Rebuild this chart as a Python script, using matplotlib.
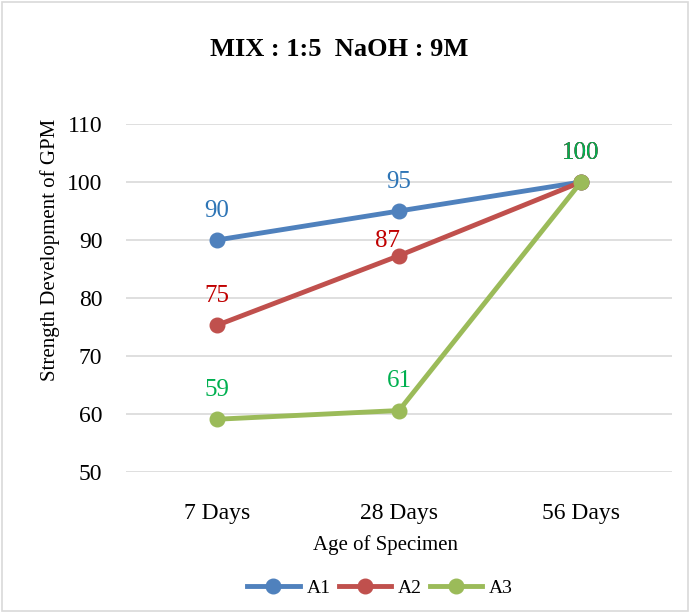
import matplotlib.pyplot as plt
from matplotlib.patches import Rectangle

plt.rcParams['font.family'] = ['Liberation Serif', 'DejaVu Serif']

ages = ['7 Days', '28 Days', '56 Days']
a1 = [90.0, 95.0, 100.0]
a2 = [75.3, 87.3, 100.0]
a3 = [59.1, 60.6, 100.0]

series = [
    ('A1', a1, '#4F81BD', '#2E75B6'),
    ('A2', a2, '#C0504D', '#C00000'),
    ('A3', a3, '#9BBB59', '#00B050'),
]

fig = plt.figure(figsize=(6.9, 6.13), dpi=100)
fig.patches.append(Rectangle((0.003, 0.003), 0.994, 0.994, transform=fig.transFigure,
                             fill=False, edgecolor='#D9D9D9', linewidth=1.2))
ax = fig.add_axes([0.1826, 0.230, 0.7914, 0.5677])

# label offsets in points; the A2 28-day label sits closer, nudged left
offsets = {('A2', 1): (-8, 3)}

x = list(range(len(ages)))
for name, vals, col, lcol in series:
    ax.plot(x, vals, color=col, lw=3.5, marker='o', ms=10.5, label=name,
            clip_on=False, zorder=3)
    for xi, v in zip(x, vals):
        ax.annotate(f'{v:.0f}', (xi, v), xytext=offsets.get((name, xi), (0, 13)),
                    textcoords='offset points', ha='center', va='bottom',
                    color=lcol, fontsize=18, zorder=4)

ax.set_xlim(-0.5, 2.5)
ax.set_ylim(50, 110)
ax.set_yticks(range(50, 111, 10))
ax.set_xticks(x)
ax.set_xticklabels(ages)
ax.tick_params(length=0, labelsize=17)
ax.tick_params(axis='x', pad=22)
ax.tick_params(axis='y', pad=17)
ax.grid(axis='y', color='#D9D9D9', lw=1.2)
ax.set_axisbelow(True)
for s in ax.spines.values():
    s.set_visible(False)

ax.set_ylabel('Strength Development of GPM', fontsize=15)
ax.yaxis.set_label_coords(-0.121, 0.638)
ax.set_xlabel('Age of Specimen', fontsize=15)
ax.xaxis.set_label_coords(0.476, -0.181)
fig.text(0.492, 0.920, 'MIX : 1:5  NaOH : 9M', ha='center', va='center',
         fontsize=19, fontweight='bold')

fig.legend(loc='center', bbox_to_anchor=(0.551, 0.040), ncol=3, frameon=False,
           fontsize=14, handlelength=2.7, columnspacing=0.4, handletextpad=0.36,
           borderaxespad=0)

fig.savefig('out.png', dpi=100)
